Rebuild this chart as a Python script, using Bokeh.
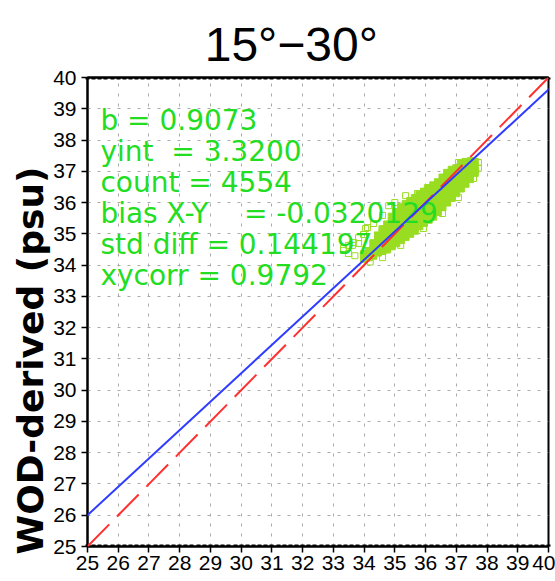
from bokeh.plotting import figure
from bokeh.models import Slope, Title, LinearAxis, SingleIntervalTicker, FixedTicker, Range1d
from bokeh.embed import file_html
from bokeh.resources import INLINE
from bokeh.core.properties import value

# ---------------- data ----------------
title_text = "15°−30°"
y_label = "WOD-derived (psu)"
axis_min, axis_max = 25, 40

fit_slope = 0.9073
fit_yint = 3.3200
NB = "\u00a0"
stats_lines = [
    "b = 0.9073",
    "yint" + NB + " = 3.3200",
    "count = 4554",
    "bias X-Y" + NB * 3 + " = -0.0320129",
    "std diff = 0.144197",
    "xycorr = 0.9792",
]

# dense core of the cloud: column x values and the y values in each column
band_x = [34.0, 34.15, 34.3, 34.45, 34.6, 34.75, 34.9, 35.05, 35.2, 35.35, 35.5, 35.65, 35.8,
          35.95, 36.1, 36.25, 36.4, 36.55, 36.7, 36.85, 37.0, 37.15, 37.3, 37.45, 37.6]
band_y = [
    [34.2, 34.35],
    [34.25, 34.45],
    [34.3, 34.5, 34.7],
    [34.4, 34.6, 34.8, 34.95],
    [34.45, 34.65, 34.85, 35.05, 35.15],
    [34.5, 34.7, 34.9, 35.1, 35.3],
    [34.6, 34.8, 35.0, 35.2, 35.4, 35.55],
    [34.7, 34.9, 35.1, 35.3, 35.5, 35.7],
    [34.8, 35.0, 35.2, 35.4, 35.6, 35.85],
    [34.9, 35.1, 35.3, 35.5, 35.7, 35.95],
    [35.0, 35.2, 35.4, 35.6, 35.8, 36.05],
    [35.1, 35.3, 35.5, 35.7, 35.9, 36.15],
    [35.25, 35.45, 35.65, 35.85, 36.05, 36.25],
    [35.35, 35.55, 35.75, 35.95, 36.15, 36.35],
    [35.45, 35.65, 35.85, 36.05, 36.25, 36.45],
    [35.55, 35.75, 35.95, 36.15, 36.35, 36.55],
    [35.7, 35.9, 36.1, 36.3, 36.5, 36.65],
    [35.85, 36.05, 36.25, 36.45, 36.65, 36.8],
    [36.0, 36.2, 36.4, 36.6, 36.8, 36.95],
    [36.15, 36.35, 36.55, 36.75, 36.95, 37.05],
    [36.3, 36.5, 36.7, 36.9, 37.1],
    [36.45, 36.65, 36.85, 37.05, 37.25],
    [36.6, 36.8, 37.0, 37.2, 37.3],
    [36.75, 36.95, 37.15, 37.3],
    [36.95, 37.15, 37.3],
]

# scattered points around the edges of the cloud
edge_x = [33.33, 33.49, 33.49, 33.66, 33.82, 33.82, 33.98, 34.11, 34.31, 34.6, 34.8, 35.0,
          35.35, 35.74, 36.06, 36.58, 36.9, 37.07, 37.46, 37.72, 34.6, 35.19, 35.93, 36.55,
          37.07, 37.56, 37.63, 37.24, 37.72, 33.7, 34.2, 33.33, 34.05, 33.62]
edge_y = [34.47, 34.37, 34.63, 34.72, 34.69, 34.88, 34.98, 35.2, 35.33, 35.59, 35.9, 36.0,
          36.22, 36.29, 36.48, 36.8, 37.0, 37.28, 37.34, 37.28, 34.24, 34.63, 35.17, 35.65,
          36.16, 36.77, 37.02, 37.09, 37.1, 34.3, 34.1, 34.53, 35.17, 34.63]

# ---------------- figure ----------------
GREEN_PTS = "#99dd22"
TICK_FONT = "Liberation Sans"

p = figure(frame_width=461, frame_height=469,
           x_range=Range1d(axis_min, axis_max), y_range=Range1d(axis_min, axis_max),
           output_backend="svg", toolbar_location=None,
           min_border_left=87, min_border_right=7, min_border_top=77, min_border_bottom=35,
           background_fill_color="white", border_fill_color="white")
p.outline_line_color = "black"
p.outline_line_width = 2

xax = p.xaxis[0]
xax.ticker = SingleIntervalTicker(interval=1, num_minor_ticks=5)
yax = p.yaxis[0]
yax.ticker = SingleIntervalTicker(interval=1, num_minor_ticks=5)

for ax in (xax, yax):
    ax.axis_line_color = "black"
    ax.axis_line_width = 2
    ax.major_tick_line_color = "black"
    ax.major_tick_line_width = 1.5
    ax.major_tick_out = 6
    ax.major_tick_in = 0
    ax.major_label_text_font = TICK_FONT
    ax.major_label_text_font_size = "21px"
    ax.major_label_text_color = "black"
xax.major_label_standoff = 3
yax.major_label_standoff = 5
xax.minor_tick_line_color = "black"
xax.minor_tick_line_width = 4
xax.minor_tick_in = 2
xax.minor_tick_out = 0
yax.minor_tick_line_color = None

# top axis: inward minor ticks, and the chart title as its axis label
# (trailing no-break spaces move the centred title a little to the left, as in the original)
top_minor = [axis_min + i * 0.2 for i in range(int((axis_max - axis_min) * 5) + 1)]
top_ax = LinearAxis(ticker=FixedTicker(ticks=[], minor_ticks=top_minor),
                    major_label_standoff=0,
                    axis_line_color="black", axis_line_width=2,
                    major_tick_in=0, major_tick_out=0,
                    minor_tick_in=2, minor_tick_out=0,
                    minor_tick_line_color="black", minor_tick_line_width=4,
                    axis_label=title_text + NB * 4,
                    axis_label_standoff=7,
                    axis_label_text_font="Liberation Sans",
                    axis_label_text_font_size="48px",
                    axis_label_text_font_style="normal",
                    axis_label_text_color="black")
p.add_layout(top_ax, "above")

p.xgrid.grid_line_color = "#aaaaaa"
p.ygrid.grid_line_color = "#aaaaaa"
p.xgrid.grid_line_dash = "3 7"
p.ygrid.grid_line_dash = "3 7"
p.xgrid.grid_line_width = 1
p.ygrid.grid_line_width = 1

ylab = Title(text=y_label, align="left", offset=-8, standoff=0,
             text_font="DejaVu Sans", text_font_size="36px",
             text_font_style="bold", text_color="black")
p.add_layout(ylab, "left")

# points
bx, by = [], []
for xv, ys in zip(band_x, band_y):
    for yv in ys:
        bx.append(xv)
        by.append(yv)
p.scatter(bx, by, marker="square", size=7, fill_color=GREEN_PTS, line_color=GREEN_PTS)
p.scatter(edge_x, edge_y, marker="square", size=6, fill_color=None, line_color=GREEN_PTS, line_width=1)

# 1:1 line and fit line
p.add_layout(Slope(gradient=1, y_intercept=0, line_color="#ff3030", line_width=2, line_dash="31 11"))
p.add_layout(Slope(gradient=fit_slope, y_intercept=fit_yint, line_color="#2f3cff", line_width=2))

# stats text
top_base = 38.24
step = 0.99
stat_x = [25.42] * len(stats_lines)
stat_y = [top_base - i * step for i in range(len(stats_lines))]
p.text(stat_x, stat_y, text=stats_lines, text_font=value("DejaVu Sans"),
       text_font_size=value("28px"), text_color="#22dd22", text_baseline="alphabetic",
       y_offset=-12)

open("out.html", "w").write(file_html(p, INLINE))
